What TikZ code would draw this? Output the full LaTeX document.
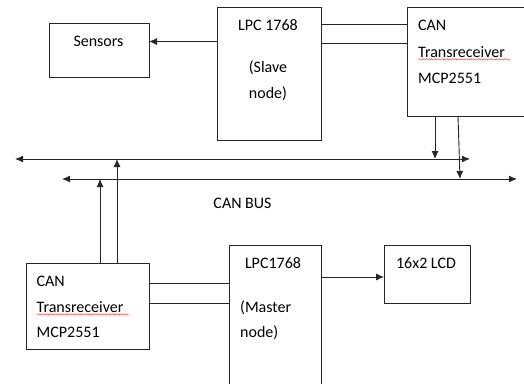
\documentclass[tikz,border=0pt]{standalone}
\usepackage{fontspec}
\setmainfont{Carlito}
\usepackage{tikz}
\usetikzlibrary{arrows.meta}
\usetikzlibrary{decorations.pathmorphing}
\tikzset{
    blk/.style={draw=black!85, line width=0.9pt, rectangle, inner sep=0pt, outer sep=0pt},
    txt/.style={inner sep=0pt, font=\fontsize{16}{26}\selectfont},
    wire/.style={draw=black!85, line width=0.9pt},
    bus/.style={draw=black!85, line width=1pt, {Latex[length=8pt,width=7pt]}-{Latex[length=8pt,width=7pt]}},
    squiggle/.style={draw=red!80, line width=0.4pt, decorate, decoration={snake, amplitude=0.7pt, segment length=2.6pt}}}

\begin{document}
\begin{tikzpicture}[x=1pt, y=-1pt, >={Latex[length=8pt,width=7pt]}]

                    \clip (0,0) rectangle (524,383);
                    \fill[white] (0,0) rectangle (524,383);

                    % boxes
                    \node[blk, minimum width=100pt, minimum height=54pt] (sens) at (99,50) {};
                    \node[blk, minimum width=104pt, minimum height=133pt] (slave) at (269,73.5) {};
                    \node[blk, minimum width=130pt, minimum height=109pt] (cantop) at (472,61.5) {};
                    \node[blk, minimum width=123pt, minimum height=86pt] (canbot) at (87.5,306) {};
                    \node[blk, minimum width=92pt, minimum height=160pt] (master) at (275,325) {};
                    \node[blk, minimum width=86pt, minimum height=58pt] (lcd) at (427,274) {};

                    % texts
                    \node[txt, anchor=base] (senstxt) at (98.5,46) {Sensors};
                    \node[txt, anchor=base] (slavetxt) at (268,30) {LPC 1768};
                    \node[txt, anchor=base] (slavetxtb) at (268,72) {(Slave};
                    \node[txt, anchor=base] (slavetxtc) at (268,98) {node)};
                    \node[txt, anchor=base west] (cantoptxt) at (418,30) {CAN};
                    \node[txt, anchor=base west] (cantoptxtb) at (418,57) {Transreceiver};
                    \node[txt, anchor=base west] (cantoptxtc) at (418,83) {MCP2551};
                    \node[txt, anchor=base west] (canbottxt) at (36.5,286) {CAN};
                    \node[txt, anchor=base west] (canbottxtb) at (36.5,312) {Transreceiver};
                    \node[txt, anchor=base west] (canbottxtc) at (36.5,337) {MCP2551};
                    \node[txt, anchor=base] (mastertxt) at (273,268) {LPC1768};
                    \node[txt, anchor=base west] (mastertxtb) at (240,312) {(Master};
                    \node[txt, anchor=base west] (mastertxtc) at (240,337) {node)};
                    \node[txt, anchor=base] (lcdtxt) at (426,268) {16x2 LCD};
                    \node[txt, anchor=base] (bustxt) at (242.5,208) {CAN BUS};

                    % spell check marks
                    \draw[squiggle] (cantoptxtb.south west) ++(0,2) -- ++(92,0);
                    \draw[squiggle] (canbottxtb.south west) ++(0,2) -- ++(92,0);

                    % bus lines
                    \coordinate (busAl) at (15,159);
                    \coordinate (busAr) at (470,159);
                    \coordinate (busBl) at (62,179);
                    \coordinate (busBr) at (517,179);
                    \draw[bus] (busAl) -- (busAr);
                    \draw[bus] (busBl) -- (busBr);

                    % links
                    \draw[wire] (slave.east |- 0,24) -- (cantop.west |- 0,24);
                    \draw[wire] (slave.east |- 0,43) -- (cantop.west |- 0,43);
                    \draw[wire, ->] (slave.west |- 0,41.5) -- (sens.east |- 0,41.5);
                    \draw[wire] (canbot.east |- 0,283) -- (master.west |- 0,283);
                    \draw[wire] (canbot.east |- 0,303) -- (master.west |- 0,303);
                    \draw[wire, ->] (master.east |- 0,277) -- (lcd.west |- 0,277);

                    \draw[wire, ->] (cantop.south -| 435,0) -- (435,159);
                    \draw[wire, ->] (cantop.south -| 458,0) -- (460,179);
                    \draw[wire, ->] (canbot.north -| 100,0) -- (100,179);
                    \draw[wire, ->] (canbot.north -| 117,0) -- (117,159);

                \end{tikzpicture}
\end{document}
